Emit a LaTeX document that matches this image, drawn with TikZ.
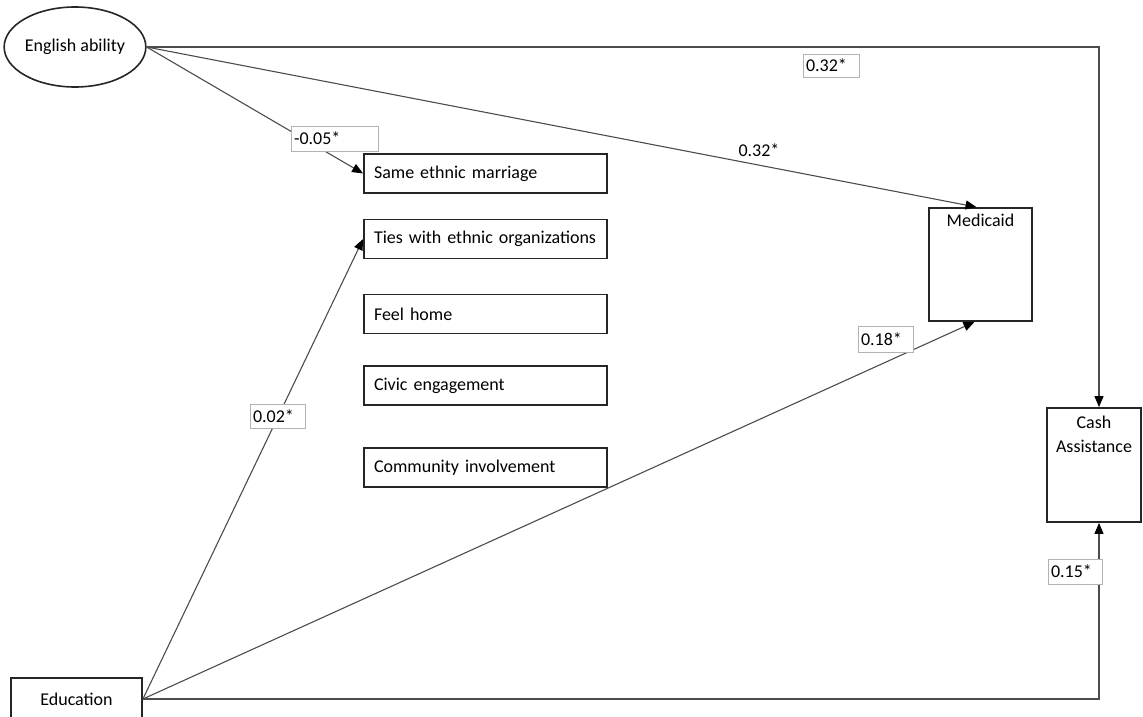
\documentclass[tikz,border=0pt]{standalone}
\usepackage{fontspec}
\setmainfont{Carlito}
\usetikzlibrary{arrows.meta,shapes.geometric,calc}
\begin{document}
\begin{tikzpicture}[x=1pt,y=-1pt,
  every node/.style={font=\fontsize{18}{24}\selectfont},
  var/.style={draw=black!85,line width=1.8pt,rectangle,minimum width=243pt,
    minimum height=39pt,inner xsep=10pt,inner ysep=0pt,text width=223pt,align=left},
  outc/.style={draw=black!85,line width=1.8pt,rectangle,inner sep=0pt},
  lat/.style={draw=black!85,line width=1.6pt,ellipse,minimum width=132pt,
    minimum height=80pt,inner sep=0pt},
  coef/.style={draw=black!30,line width=0.8pt,fill=white,rectangle,
    inner xsep=3pt,inner ysep=0pt,align=left},
  conn/.style={draw=black!70,line width=1.1pt,
    -{Triangle[length=11pt,width=9pt,color=black]}},
]
\useasboundingbox (0,0) rectangle (1143,717);

% predictors
\node[lat] (eng) at (75,47) {English ability};
\node[outc,minimum width=131pt,minimum height=42pt] (edu) at (76.5,699) {Education};

% mediators
\node[var] (same)  at (485.5,173.5) {Same ethnic marriage};
\node[var] (ties)  at (485.5,239)   {Ties with ethnic organizations};
\node[var] (feel)  at (485.5,314)   {Feel home};
\node[var] (civic) at (485.5,385.5) {Civic engagement};
\node[var] (comm)  at (485.5,467.5) {Community involvement};

% outcomes
\node[outc,minimum width=103pt,minimum height=113pt,
  label={[name=medtxt,anchor=north,yshift=-7pt,inner sep=0pt]north:Medicaid}]
  (med) at (980.5,264.5) {};
\node[outc,minimum width=94pt,minimum height=114pt,
  label={[name=cashtxt,anchor=north,yshift=-9pt,inner sep=0pt,align=center]north:Cash\\Assistance}]
  (cash) at (1094,465) {};

% paths
\draw[conn] (eng.east) -| ([xshift=5pt]cash.north);
\draw[conn] (eng.east) -- ([xshift=-4pt]med.north);
\draw[conn] (eng.east) -- (same.west);
\draw[conn] (edu.east) -- (ties.west);
\draw[conn] (edu.east) -- ([xshift=-6pt]med.south);
\draw[conn] (edu.east) -| ([xshift=5pt]cash.south);

% coefficients
\node[coef,text width=81pt,minimum height=25pt] (c1) at (334.5,138.5) {-0.05*};
\node[coef,text width=50pt,minimum height=23pt] (c2) at (831,65.5) {0.32*};
\node[inner sep=0pt] (c3) at (759,150) {0.32*};
\node[coef,text width=49pt,minimum height=24pt] (c4) at (277.5,416) {0.02*};
\node[coef,text width=49pt,minimum height=26pt] (c5) at (885.5,339) {0.18*};
\node[coef,text width=48pt,minimum height=25pt] (c6) at (1075,571.5) {0.15*};
\end{tikzpicture}
\end{document}
